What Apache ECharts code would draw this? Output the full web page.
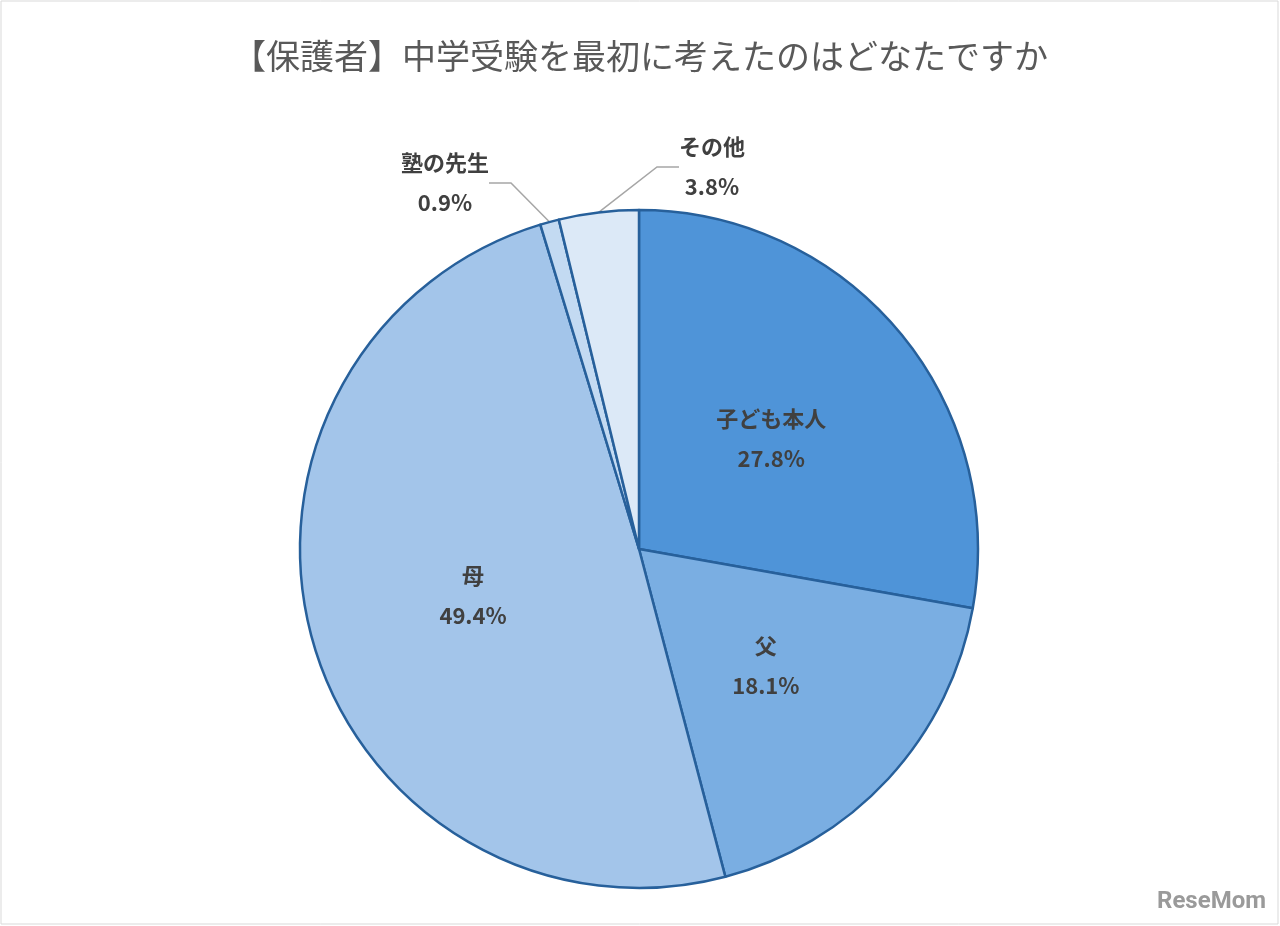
<!DOCTYPE html>
<html><head><meta charset="utf-8">
<script src="https://cdn.jsdelivr.net/npm/echarts@6/dist/echarts.min.js"></script>
<style>html,body{margin:0;padding:0;background:#fff}#c{width:1280px;height:926px}</style>
</head><body><div id="c"></div>
<script>
const categories = ['子ども本人','父','母','塾の先生','その他'];
const values = [27.8, 18.1, 49.4, 0.9, 3.8];
const colors = ['#4f94d8','#7aaee2','#a3c5ea','#c3daf2','#dce9f7'];
const outside = [false,false,false,true,true];
const outPos = {'塾の先生':[445,183],'その他':[712,167]};
const chart = echarts.init(document.getElementById('c'));
chart.setOption({
  backgroundColor:'#fff',
  title:{text:'【保護者】中学受験を最初に考えたのはどなたですか',left:'center',top:34,
    textStyle:{fontFamily:'Noto Sans CJK JP',fontSize:34,fontWeight:'normal',color:'#595959'}},
  graphic:[
    {type:'rect',shape:{x:1,y:1,width:1277,height:923},style:{fill:'none',stroke:'#d9d9d9',lineWidth:1}},
    {type:'text',right:14,bottom:12,style:{text:'ReseMom',font:'bold 24px Roboto',fill:'#9a9a9a'}}
  ],
  series:[{
    type:'pie',center:[639,549],radius:339,startAngle:90,clockwise:true,
    itemStyle:{borderColor:'#27609b',borderWidth:2.5},
    label:{fontFamily:'Noto Sans CJK JP',fontSize:22,fontWeight:'bold',color:'#404040',lineHeight:40,
      formatter:p=>p.name+'\n'+p.value.toFixed(1)+'%'},
    labelLine:{lineStyle:{color:'#a6a6a6',width:1.5}},
    labelLayout:p=>{const q=outPos[p.text.split('\n')[0]]; if(!q) return {};
      return {x:q[0],y:q[1],align:'center',verticalAlign:'middle'};},
    data:categories.map((n,i)=>({name:n,value:values[i],itemStyle:{color:colors[i]},
      label:{position:outside[i]?'outside':'inside'},
      labelLine:{show:outside[i],length:18,length2:22}}))
  }]
});
</script></body></html>
